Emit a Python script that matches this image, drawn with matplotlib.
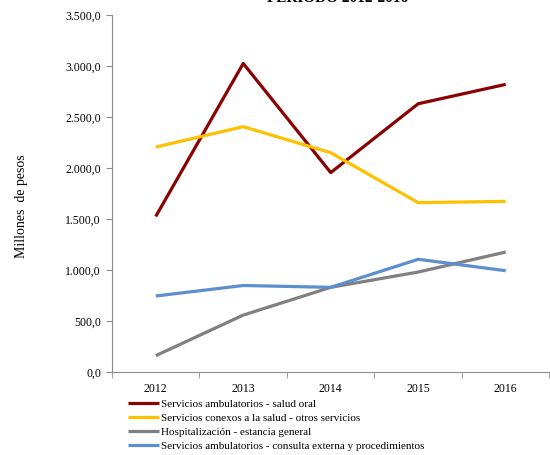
import matplotlib.pyplot as plt
from matplotlib.ticker import FuncFormatter, FixedLocator

years = ["2012", "2013", "2014", "2015", "2016"]
salud_oral = [1525, 3025, 1955, 2630, 2820]
otros_servicios = [2205, 2405, 2150, 1660, 1673]
estancia_general = [160, 558, 830, 980, 1176]
consulta_externa = [745, 848, 830, 1105, 993]

series = [
    ("Servicios ambulatorios - salud oral", salud_oral, "#8B0000"),
    ("Servicios conexos a la salud - otros servicios", otros_servicios, "#FFC000"),
    ("Hospitalización - estancia general", estancia_general, "#808080"),
    ("Servicios ambulatorios - consulta externa y procedimientos", consulta_externa, "#5B8FD0"),
]

plt.rcParams['font.family'] = ['Liberation Serif', 'DejaVu Serif']

fig = plt.figure(figsize=(5.5, 4.55), dpi=100)
ax = fig.add_axes([112/550, 1 - 372/455, 1 - 112/550 - 0.001, 357/455])

x = list(range(len(years)))
for label, vals, color in series:
    ax.plot(x, vals, color=color, lw=2.3, label=label, solid_capstyle='butt')

ax.set_xlim(-0.5, len(years) - 0.5)
ax.set_ylim(0, 3500)
ax.set_yticks(range(0, 3501, 500))

def fmt(v, pos):
    s = f"{v:,.1f}"
    return s.replace(",", "X").replace(".", ",").replace("X", ".")

ax.yaxis.set_major_formatter(FuncFormatter(fmt))
ax.set_xticks(x)
ax.set_xticklabels(years)
ax.xaxis.set_minor_locator(FixedLocator([i - 0.5 for i in range(len(years) + 1)]))
ax.tick_params(axis='x', which='major', length=0, pad=8, labelsize=8.5)
ax.tick_params(axis='x', which='minor', length=4, color='#8c8c8c', direction='out')
ax.tick_params(axis='y', length=4, color='#8c8c8c', labelsize=8.5, pad=4)

for s in ['top', 'right']:
    ax.spines[s].set_visible(False)
for s in ['left', 'bottom']:
    ax.spines[s].set_color('#8c8c8c')

fig.text(22/550, 1 - 206/455, "Millones  de pesos", rotation=90, ha='center', va='center', fontsize=10)
fig.text(338/550, 1 - 2/455, "PERIODO 2012-2016", ha='center', va='baseline', fontsize=11, fontweight='bold')

ax.legend(loc='upper left', bbox_to_anchor=(128/550, 1 - 399/455), bbox_transform=fig.transFigure,
          frameon=False, fontsize=8, handlelength=2.8, handletextpad=0.15, labelspacing=0.38,
          borderpad=0, borderaxespad=0)

fig.savefig("out.png", dpi=100)
